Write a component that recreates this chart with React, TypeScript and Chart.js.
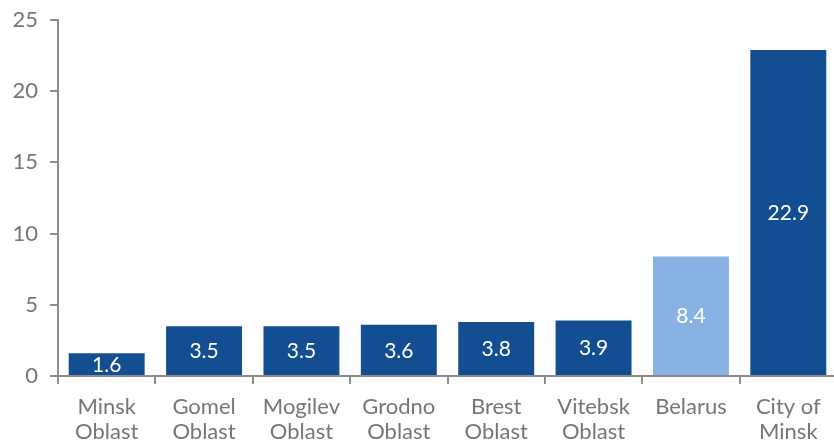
import React, { useEffect, useRef } from "react";
import { Chart, registerables } from "chart.js";

Chart.register(...registerables);

const categories: string[][] = [
  ["Minsk", "Oblast"],
  ["Gomel", "Oblast"],
  ["Mogilev", "Oblast"],
  ["Grodno", "Oblast"],
  ["Brest", "Oblast"],
  ["Vitebsk", "Oblast"],
  ["Belarus"],
  ["City of", "Minsk"],
];
const values: number[] = [1.6, 3.5, 3.5, 3.6, 3.8, 3.9, 8.4, 22.9];
const barColors: string[] = ["#124E91", "#124E91", "#124E91", "#124E91", "#124E91", "#124E91", "#87B2E3", "#124E91"];
const yTicks: number[] = [0, 5, 10, 15, 20, 25];

const FONT = "Lato, 'Open Sans', sans-serif";

const labelPlugin = {
  id: "barLabels",
  afterDatasetsDraw(chart: any) {
    const ctx = chart.ctx;
    const meta = chart.getDatasetMeta(0);
    ctx.save();
    ctx.fillStyle = "#ffffff";
    ctx.font = `21px ${FONT}`;
    ctx.textAlign = "center";
    ctx.textBaseline = "middle";
    meta.data.forEach((bar: any, i: number) => {
      const y = (bar.y + bar.base) / 2;
      ctx.fillText(values[i].toFixed(1), bar.x, y + 1);
    });
    ctx.restore();
  },
};

export default function App() {
  const ref = useRef<HTMLCanvasElement>(null);
  useEffect(() => {
    if (!ref.current) return;
    const chart = new Chart(ref.current, {
      type: "bar",
      data: {
        labels: categories,
        datasets: [
          {
            data: values,
            backgroundColor: barColors,
            barPercentage: 0.78,
            categoryPercentage: 1,
          },
        ],
      },
      plugins: [labelPlugin],
      options: {
        responsive: false,
        animation: false,
        layout: { padding: { top: 20, right: 0, left: 0, bottom: 0 } },
        plugins: { legend: { display: false }, tooltip: { enabled: false } },
        scales: {
          x: {
            grid: {
              offset: true,
              drawOnChartArea: false,
              drawTicks: true,
              tickLength: 8,
              color: "#8c8c8c",
              lineWidth: 2,
            },
            border: { display: true, color: "#8c8c8c", width: 2 },
            ticks: {
              color: "#767676",
              font: { family: FONT, size: 22, lineHeight: 1.15 },
              padding: 10,
              maxRotation: 0,
              autoSkip: false,
            },
            afterFit(scale: any) {
              scale.height = 67;
              scale.paddingLeft = 0;
              scale.paddingRight = 0;
            },
          },
          y: {
            min: 0,
            max: 25,
            afterBuildTicks(scale: any) {
              scale.ticks = yTicks.map((v) => ({ value: v }));
            },
            grid: {
              drawOnChartArea: false,
              drawTicks: true,
              tickLength: 8,
              color: "#8c8c8c",
              lineWidth: 2,
            },
            border: { display: true, color: "#8c8c8c", width: 2 },
            ticks: {
              color: "#767676",
              font: { family: FONT, size: 22 },
              padding: 12,
            },
            afterFit(scale: any) {
              scale.width = 58;
              scale.paddingTop = 0;
              scale.paddingBottom = 0;
            },
          },
        },
      },
    });
    return () => chart.destroy();
  }, []);
  return (
    <div style={{ position: "fixed", left: 0, top: 0, width: 834, height: 443, overflow: "hidden", background: "#fff" }}>
      <canvas ref={ref} width={837} height={443} style={{ display: "block" }} />
    </div>
  );
}
